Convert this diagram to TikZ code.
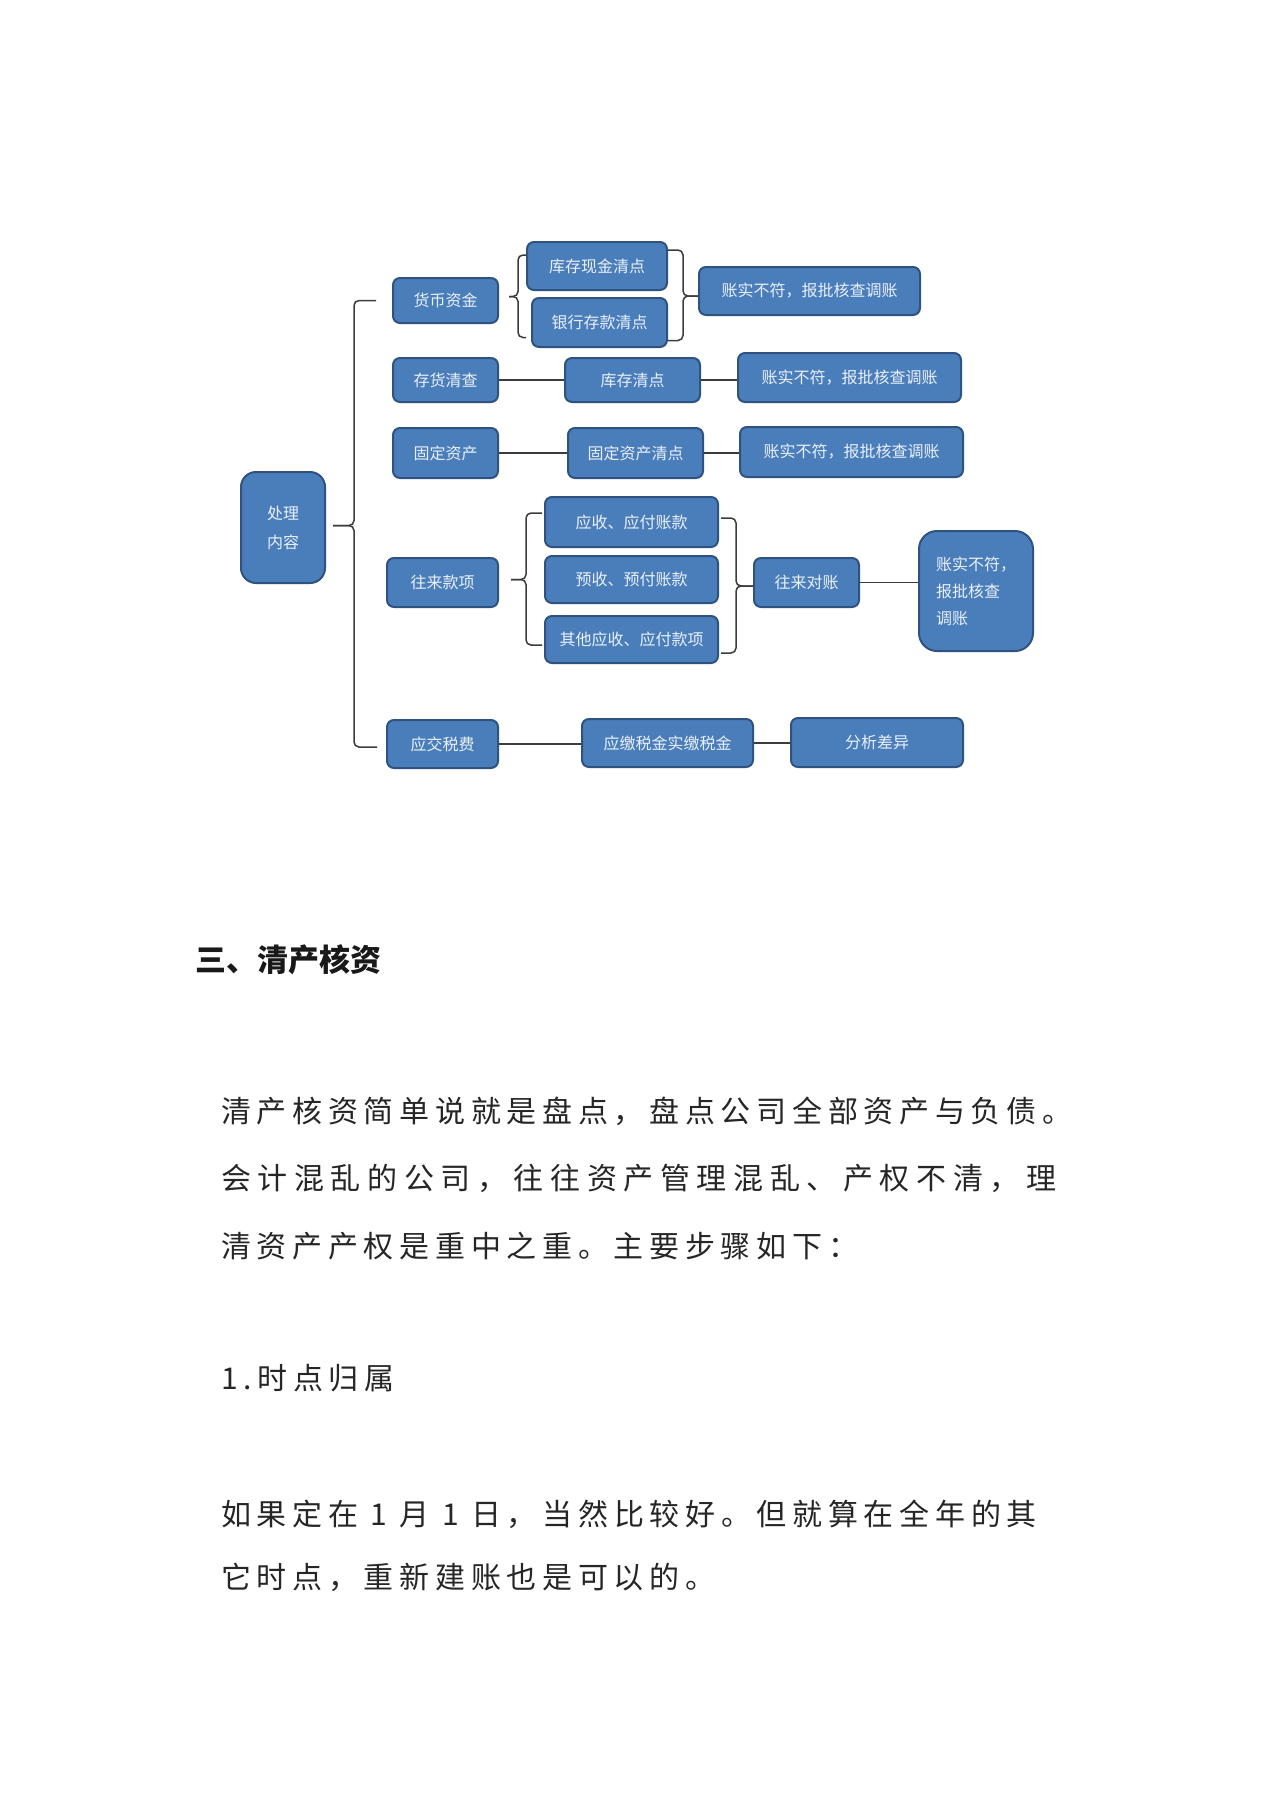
\documentclass[tikz,border=0pt]{standalone}
\usepackage{fontspec}
\usetikzlibrary{calc}
\newfontfamily\cjk{Noto Sans CJK SC}
\newfontfamily\bodyfont[LetterSpace=19]{Noto Sans CJK SC}
\definecolor{boxblue}{HTML}{4A7EBB}
\definecolor{boxline}{HTML}{2F5380}
\definecolor{boxtext}{HTML}{EAF0F8}
\definecolor{linkgray}{HTML}{3C3C3C}
\definecolor{bodygray}{HTML}{262626}
\tikzset{
	box/.style={draw=boxline, line width=2, fill=boxblue, rounded corners=7, text=boxtext, inner sep=0, align=center, font=\cjk\fontsize{16}{29}\selectfont},
	link/.style={draw=linkgray, line width=1.5},
	brace/.style={link, rounded corners=5},
	para/.style={anchor=west, inner sep=0, text=bodygray, font=\bodyfont\fontsize{30}{36}\selectfont}
}
\begin{document}
\begin{tikzpicture}[x=1pt,y=-1pt]

	%Background
	\fill[white] (0,0) rectangle (1280,1810);
	\useasboundingbox (0,0) rectangle (1280,1810);

	%Root
	\node[box, minimum width=84, minimum height=111, rounded corners=15] (clnr) at (283,527.5) {处理\\内容};

	%Row 1
	\node[box, minimum width=105, minimum height=45] (hbzj) at (445.5,300.5) {货币资金};
	\node[box, minimum width=140, minimum height=48] (kcxj) at (597,266) {库存现金清点};
	\node[box, minimum width=135, minimum height=49] (yhck) at (599.5,322.5) {银行存款清点};
	\node[box, minimum width=221, minimum height=48] (jg1) at (809.5,291) {账实不符，报批核查调账};

	%Row 2
	\node[box, minimum width=105, minimum height=44] (chqc) at (445.5,380) {存货清查};
	\node[box, minimum width=135, minimum height=44] (kcqd) at (632.5,380) {库存清点};
	\node[box, minimum width=223, minimum height=49] (jg2) at (849.5,377.5) {账实不符，报批核查调账};

	%Row 3
	\node[box, minimum width=105, minimum height=50] (gdzc) at (445.5,453) {固定资产};
	\node[box, minimum width=135, minimum height=50] (gdqd) at (635.5,453) {固定资产清点};
	\node[box, minimum width=223, minimum height=50] (jg3) at (851.5,452) {账实不符，报批核查调账};

	%Row 4
	\node[box, minimum width=111, minimum height=49] (wlkx) at (442.5,582.5) {往来款项};
	\node[box, minimum width=173, minimum height=50] (ysyf) at (631.5,522) {应收、应付账款};
	\node[box, minimum width=173, minimum height=47] (yuyf) at (631.5,579.5) {预收、预付账款};
	\node[box, minimum width=173, minimum height=47] (qtys) at (631.5,639.5) {其他应收、应付款项};
	\node[box, minimum width=105, minimum height=49] (wldz) at (806.5,582.5) {往来对账};
	\node[box, minimum width=114, minimum height=120, rounded corners=18, align=left, font=\cjk\fontsize{16}{27}\selectfont] (jg4) at (976,591) {账实不符，\\报批核查\\调账};

	%Row 5
	\node[box, minimum width=111, minimum height=48] (yjsf) at (442.5,744) {应交税费};
	\node[box, minimum width=171, minimum height=48] (yjsj) at (667.5,743) {应缴税金实缴税金};
	\node[box, minimum width=172, minimum height=49] (fxcy) at (877,742.5) {分析差异};

	%Main brace
	\draw[brace] ($(hbzj.west)+(-16,0)$) -- ++(-22,0) |- ($(clnr.east)+(7,-2)$);
	\draw[brace] ($(yjsf.west)+(-9,3)$) -- ++(-23,0) |- ($(clnr.east)+(7,-2)$);

	%Braces row 1
	\draw[brace] ($(kcxj.west)+(0,-11)$) -- ++(-8,0) |- ($(hbzj.east)+(10,-4)$);
	\draw[brace] ($(yhck.west)+(-5,15)$) -- ++(-8,0) |- ($(hbzj.east)+(10,-4)$);
	\draw[brace] ($(kcxj.east)+(0,-16)$) -- ++(15,0) |- ($(jg1.west)+(0,5)$);
	\draw[brace] ($(yhck.east)+(0,18)$) -- ++(15,0) |- ($(jg1.west)+(0,5)$);

	%Braces row 4
	\draw[brace] ($(ysyf.west)+(-2,-9)$) -- ++(-16,0) |- ($(wlkx.east)+(12,-3)$);
	\draw[brace] ($(qtys.west)+(-2,5.5)$) -- ++(-16,0) |- ($(wlkx.east)+(12,-3)$);
	\draw[brace] ($(ysyf.east)+(2,-4)$) -- ++(15,0) |- ($(wldz.west)+(0,3.5)$);
	\draw[brace] ($(qtys.east)+(2,13.5)$) -- ++(15,0) |- ($(wldz.west)+(0,3.5)$);

	%Lines
	\draw[link] (chqc) -- (kcqd);
	\draw[link] (kcqd.east) -- (kcqd.east -| jg2.west);
	\draw[link] (gdzc) -- (gdqd);
	\draw[link] (gdqd.east) -- (gdqd.east -| jg3.west);
	\draw[link] (wldz.east) -- (wldz.east -| jg4.west);
	\draw[link] (yjsf.east) -- (yjsf.east -| yjsj.west);
	\draw[link] (yjsj.east) -- (yjsj.east -| fxcy.west);

	%Text
	\node[anchor=west, inner sep=0, text=black!90, font=\cjk\bfseries\fontsize{31}{36}\selectfont] (title) at (195,960) {三、清产核资};
	\node[para] (p1) at (221,1111) {清产核资简单说就是盘点，盘点公司全部资产与负债。};
	\node[para, font=\bodyfont\addfontfeature{LetterSpace=22}\fontsize{30}{36}\selectfont] (p2) at (221,1178) {会计混乱的公司，往往资产管理混乱、产权不清，理};
	\node[para] (p3) at (221,1246) {清资产产权是重中之重。主要步骤如下：};
	\node[para] (s1) at (221,1378) {1.时点归属};
	\node[para] (p4) at (221,1514) {如果定在 1 月 1 日，当然比较好。但就算在全年的其};
	\node[para] (p5) at (221,1577) {它时点，重新建账也是可以的。};

\end{tikzpicture}
\end{document}
